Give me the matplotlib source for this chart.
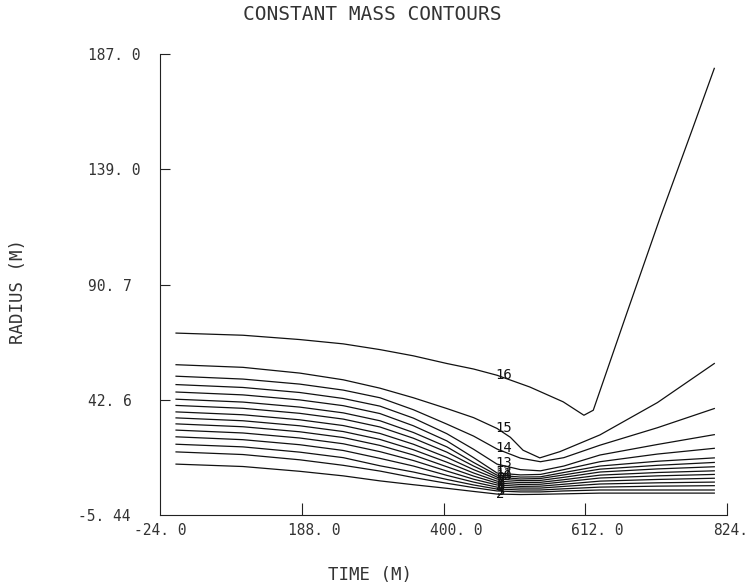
import matplotlib
matplotlib.use("Agg")
import matplotlib.pyplot as plt
import matplotlib.transforms as mtransforms

# ---- data ----
x_ticks = [-24.0, 188.0, 400.0, 612.0, 824.0]
x_tick_labels = ["-24. 0", "188. 0", "400. 0", "612. 0", "824."]
y_ticks = [-5.44, 42.6, 90.7, 139.0, 187.0]
y_tick_labels = ["-5. 44", "42. 6", "90. 7", "139. 0", "187. 0"]

# common time grid for contours 2..14
time_grid = [0, 100, 185, 250, 305, 355, 405, 445, 480, 515, 545, 580, 634, 720, 805]
contour_2 = [15.8, 14.8, 12.8, 10.9, 8.8, 7.2, 5.7, 4.4, 3.3, 3.1, 3.2, 3.4, 3.7, 3.7, 3.7]
contour_3 = [20.9, 19.8, 17.6, 15.3, 12.9, 10.2, 7.8, 6.0, 4.6, 4.2, 4.2, 4.6, 5.0, 5.0, 5.0]
contour_4 = [24.1, 23.0, 20.8, 18.5, 15.1, 12.5, 9.4, 7.1, 5.4, 5.0, 5.0, 5.5, 6.2, 6.6, 6.8]
contour_5 = [27.2, 26.0, 23.9, 21.5, 18.2, 15.0, 11.1, 8.3, 6.2, 5.8, 5.8, 6.5, 7.5, 8.0, 8.3]
contour_6 = [30.0, 28.8, 26.7, 24.3, 21.0, 17.3, 12.9, 9.5, 7.1, 6.5, 6.6, 7.4, 8.7, 9.4, 9.9]
contour_7 = [32.6, 31.4, 29.3, 26.9, 23.6, 19.6, 14.7, 10.8, 7.9, 7.3, 7.4, 8.4, 10.0, 10.9, 11.5]
contour_8 = [35.1, 33.9, 31.8, 29.4, 26.1, 21.8, 16.6, 12.1, 8.7, 8.1, 8.2, 9.3, 11.2, 12.3, 13.0]
contour_9 = [37.6, 36.4, 34.3, 31.9, 28.6, 24.1, 18.6, 13.5, 9.6, 8.9, 9.0, 10.3, 12.5, 13.8, 14.7]
contour_10 = [40.3, 39.1, 37.0, 34.6, 31.3, 26.6, 20.8, 15.0, 10.4, 9.6, 9.8, 11.3, 13.7, 15.3, 16.5]
contour_11 = [42.9, 41.7, 39.6, 37.2, 33.9, 29.0, 23.0, 16.5, 11.2, 10.4, 10.5, 12.3, 15.0, 17.0, 18.4]
contour_12 = [45.9, 44.7, 42.6, 40.2, 36.9, 31.8, 25.5, 18.5, 12.1, 11.3, 11.5, 13.5, 16.8, 20.0, 22.4]
contour_13 = [49.0, 47.8, 45.7, 43.2, 40.0, 35.0, 28.5, 22.0, 15.8, 13.5, 13.0, 15.0, 19.6, 24.0, 28.1]
contour_14 = [52.5, 51.3, 49.2, 46.7, 43.5, 38.5, 32.5, 27.5, 22.1, 18.3, 16.8, 18.5, 23.7, 31.0, 39.0]

time_15 = [0, 100, 185, 250, 305, 355, 405, 445, 480, 500, 519, 544, 574, 634, 720, 805]
contour_15 = [57.3, 56.2, 53.8, 51.0, 47.5, 43.5, 39.0, 35.2, 30.7, 27.0, 21.6, 18.4, 21.0, 28.0, 41.5, 57.8]

time_16 = [0, 100, 185, 250, 305, 355, 405, 445, 480, 529, 579, 610, 624, 674, 724, 773, 805]
contour_16 = [70.5, 69.6, 67.8, 66.0, 63.6, 61.0, 57.8, 55.5, 52.9, 48.0, 41.8, 36.2, 38.3, 78.7, 118.7, 156.2, 181.0]

contour_ids = list(range(2, 17))
label_time = 478

# ---- figure ----
mono = "DejaVu Sans Mono"
fig = plt.figure(figsize=(7.55, 5.87), dpi=100)
ax = fig.add_axes([160 / 755, (587 - 515) / 587, 567 / 755, (515 - 54) / 587])

series = {
    2: (time_grid, contour_2), 3: (time_grid, contour_3), 4: (time_grid, contour_4),
    5: (time_grid, contour_5), 6: (time_grid, contour_6), 7: (time_grid, contour_7),
    8: (time_grid, contour_8), 9: (time_grid, contour_9), 10: (time_grid, contour_10),
    11: (time_grid, contour_11), 12: (time_grid, contour_12), 13: (time_grid, contour_13),
    14: (time_grid, contour_14), 15: (time_15, contour_15), 16: (time_16, contour_16),
}

ink = "#111111"
for cid in contour_ids:
    xs, ys = series[cid]
    ax.plot(xs, ys, color=ink, lw=0.9, solid_joinstyle="round")
    # label placed where the contour passes label_time
    yl = None
    for i in range(len(xs) - 1):
        if xs[i] <= label_time <= xs[i + 1]:
            t = (label_time - xs[i]) / (xs[i + 1] - xs[i])
            yl = ys[i] + t * (ys[i + 1] - ys[i])
            break
    ax.text(label_time, yl, str(cid), fontsize=10, color=ink,
            ha="left", va="center", family=mono)

ax.set_xlim(-24, 824)
ax.set_ylim(-5.44, 187.0)

for s in ["top", "right"]:
    ax.spines[s].set_visible(False)
for s in ["left", "bottom"]:
    ax.spines[s].set_linewidth(0.8)
    ax.spines[s].set_color("#222222")

ax.set_xticks(x_ticks)
ax.set_xticklabels(x_tick_labels, family=mono)
ax.set_yticks(y_ticks)
ax.set_yticklabels(y_tick_labels, family=mono)
ax.tick_params(axis="x", direction="in", length=9, width=0.8, color="#222222",
               labelsize=10.5, labelcolor="#333333", pad=6)
ax.tick_params(axis="y", direction="in", length=7.5, width=0.8, color="#222222",
               labelsize=10.5, labelcolor="#333333", pad=51.5)

# hide corner ticks
ax.xaxis.get_major_ticks()[0].tick1line.set_visible(False)
ax.yaxis.get_major_ticks()[0].tick1line.set_visible(False)

# x tick labels: left aligned slightly left of the tick
for i, lab in enumerate(ax.get_xticklabels()):
    lab.set_horizontalalignment("left")
    dx = -26 if i == 0 else -14
    lab.set_transform(lab.get_transform() +
                      mtransforms.ScaledTranslation(dx / 100, 0, fig.dpi_scale_trans))
# y tick labels: left aligned (minus sign hangs out)
for i, lab in enumerate(ax.get_yticklabels()):
    lab.set_horizontalalignment("left")
    dx = -10 if i == 0 else 0
    lab.set_transform(lab.get_transform() +
                      mtransforms.ScaledTranslation(dx / 100, 0, fig.dpi_scale_trans))

fig.text(372 / 755, 1 - 15 / 587, "CONSTANT MASS CONTOURS", ha="center", va="center",
         fontsize=14, color="#333333", family=mono)
fig.text(370 / 755, 1 - 575 / 587, "TIME (M)", ha="center", va="center",
         fontsize=12.5, color="#333333", family=mono)
fig.text(18 / 755, 1 - 292 / 587, "RADIUS (M)", ha="center", va="center",
         rotation=90, fontsize=12.5, color="#333333", family=mono)

fig.savefig("out.png", dpi=100)
